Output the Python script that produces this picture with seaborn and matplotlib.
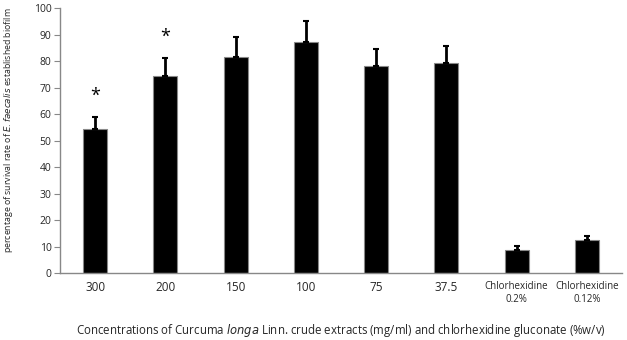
import matplotlib
matplotlib.use("Agg")
import matplotlib.pyplot as plt
import seaborn as sns
import pandas as pd
import numpy as np

categories = ["300", "200", "150", "100", "75", "37.5", "Chlorhexidine\n0.2%", "Chlorhexidine\n0.12%"]
survival = [54.2, 74.3, 81.5, 87.4, 78.1, 79.4, 8.7, 12.3]
errors = [4.7, 6.8, 7.5, 7.7, 6.4, 6.4, 1.4, 1.7]
star_positions = [("300", 67.0), ("200", 89.0)]

df = pd.DataFrame({"cat": categories, "val": survival})

sns.set_style("white")
plt.rcParams['font.family'] = ['Open Sans', 'DejaVu Sans']

fig = plt.figure(figsize=(6.27, 3.40), dpi=100)
ax = fig.add_axes([0.0957, 0.197, 0.8963, 0.779])

sns.barplot(data=df, x="cat", y="val", color="black", width=0.34, ax=ax,
            edgecolor="#888888", linewidth=0.8, saturation=1, errorbar=None)

xpos = np.arange(len(categories))
ax.errorbar(xpos, survival, yerr=[np.zeros(len(errors)), errors], fmt="none",
            ecolor="black", elinewidth=2, capsize=2, capthick=1.5, zorder=3)

for cat, y in star_positions:
    ax.text(categories.index(cat), y, "*", ha="center", va="center", fontsize=13, color="black")

ax.set_xlim(-0.5, len(categories) - 0.5)
ax.set_ylim(0, 100)
ax.set_yticks(range(0, 101, 10))
ax.set_xticks(xpos)
ax.set_xticklabels(categories)
for lbl in ax.get_xticklabels():
    if "Chlorhexidine" in lbl.get_text():
        lbl.set_fontsize(7)
    else:
        lbl.set_fontsize(8.5)
ax.set_xticks(np.arange(-0.5, len(categories), 1), minor=True)
ax.tick_params(axis="x", which="major", length=0, pad=6)
ax.tick_params(axis="x", which="minor", length=4, color="#888888", width=0.8, direction="out")
ax.tick_params(axis="y", length=4, color="#888888", width=0.8, direction="out", labelsize=7.5, pad=2)
ax.tick_params(bottom=True, left=True)

for s in ["top", "right"]:
    ax.spines[s].set_visible(False)
for s in ["left", "bottom"]:
    ax.spines[s].set_color("#888888")
    ax.spines[s].set_linewidth(1)

ax.set_ylabel("percentage of survival rate of $\\it{E. faecalis}$ established biofilm", fontsize=6.3, labelpad=6)
ax.set_xlabel("Concentrations of Curcuma $\\it{longa}$ Linn. crude extracts (mg/ml) and chlorhexidine gluconate (%w/v)",
              fontsize=8.3, labelpad=12)
ax.yaxis.set_label_coords(-0.08, 0.54)

fig.savefig("out.png", dpi=100)
